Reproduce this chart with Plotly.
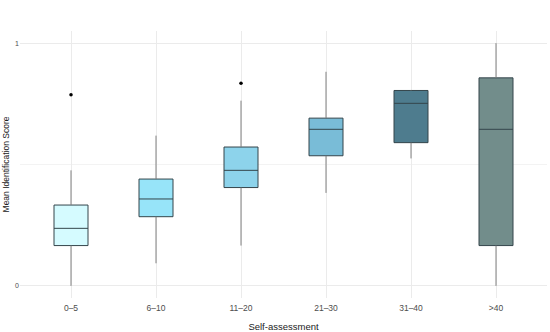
import plotly.graph_objects as go

categories = ["0\u20135", "6\u201310", "11\u201320", "21\u201330", "31\u201340", ">40"]
lower_whisker = [0.0, 0.093, 0.166, 0.383, 0.525, 0.0]
q1_values = [0.166, 0.285, 0.405, 0.536, 0.590, 0.166]
median_values = [0.237, 0.358, 0.476, 0.645, 0.752, 0.645]
q3_values = [0.333, 0.440, 0.572, 0.691, 0.805, 0.857]
upper_whisker = [0.476, 0.619, 0.763, 0.882, 0.807, 1.0]
outlier_cats = ["0\u20135", "11\u201320"]
outlier_values = [0.787, 0.835]
fill_colors = ["#d5fbff", "#97e4f9", "#8dd3eb", "#79bcd7", "#4e7c8e", "#728d8b"]

fig = go.Figure()

# whiskers (grey, no caps), drawn from the data
wx, wy = [], []
for i, c in enumerate(categories):
    wx += [c, c, None, c, c, None]
    wy += [lower_whisker[i], q1_values[i], None, q3_values[i], upper_whisker[i], None]
fig.add_trace(go.Scatter(
    x=wx, y=wy, mode="lines", line=dict(color="#808080", width=1),
    showlegend=False, hoverinfo="skip",
))

for i, c in enumerate(categories):
    fig.add_trace(go.Box(
        x=[c], q1=[q1_values[i]], median=[median_values[i]], q3=[q3_values[i]],
        lowerfence=[q1_values[i]], upperfence=[q3_values[i]],
        fillcolor=fill_colors[i], line=dict(color="#34454b", width=1),
        whiskerwidth=0, width=0.4, boxpoints=False, showlegend=False,
        hoverinfo="skip",
    ))

fig.add_trace(go.Scatter(
    x=outlier_cats, y=outlier_values, mode="markers",
    marker=dict(color="black", size=3.5), showlegend=False, hoverinfo="skip",
))

fig.update_layout(
    width=550, height=332,
    margin=dict(l=20, r=3, t=31, b=34),
    plot_bgcolor="white", paper_bgcolor="white",
    font=dict(family="Liberation Sans, Arial, sans-serif"),
    xaxis=dict(
        categoryorder="array", categoryarray=categories,
        range=[-0.6, 5.6], automargin=False,
        showgrid=True, gridcolor="#ebebeb", gridwidth=1,
        zeroline=False, showline=False, ticks="", ticklabelstandoff=3,
        tickfont=dict(size=8.5, color="#4d4d4d"),
        title=dict(text="Self-assessment", font=dict(size=9.5, color="#222"), standoff=12),
    ),
    yaxis=dict(
        range=[-0.05, 1.05], tickvals=[0, 1], ticktext=["0", "1"], automargin=False,
        showgrid=True, gridcolor="#ebebeb", gridwidth=1,
        minor=dict(tickvals=[0.5], showgrid=True, gridcolor="#f3f3f3", gridwidth=0.8),
        zeroline=False, showline=False, ticks="",
        tickfont=dict(size=7, color="#4d4d4d"),
        title=dict(text="Mean Identification Score", font=dict(size=8.5, color="#222"), standoff=4),
    ),
)

fig.write_html("out.html", config={"displayModeBar": False},
               post_script="document.body.style.margin='0';")
